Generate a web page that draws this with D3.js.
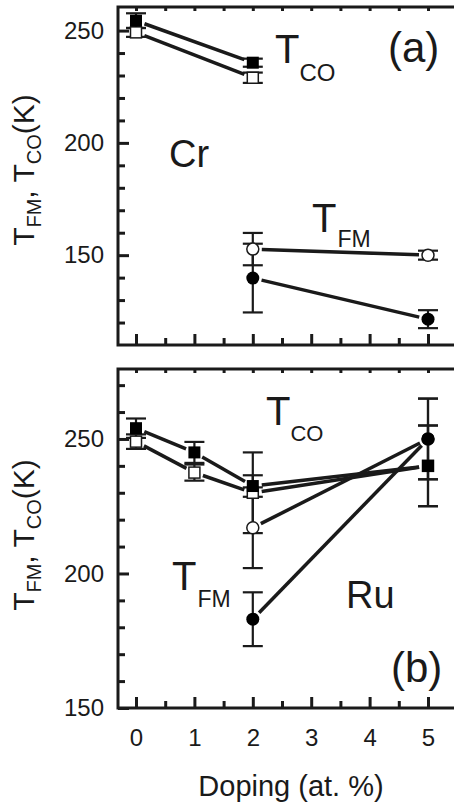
<!DOCTYPE html>
<html>
<head>
<meta charset="utf-8">
<script src="https://cdn.jsdelivr.net/npm/d3@7"></script>
<style>
body { margin: 0; background: #fff; }
text { font-family: "Liberation Sans", Arial, Helvetica, sans-serif; fill: #1a1a1a; }
</style>
</head>
<body>
<script>

// ---- data ----
var xTickValues = [0, 1, 2, 3, 4, 5]
var xMinorValues = [0.5, 1.5, 2.5, 3.5, 4.5]

// (a) Cr doping
var crTcoX = [0, 2]
var crTcoFilled = [254.4, 235.7]
var crTcoFilledErr = [3.3, 1.8]
var crTcoOpen = [249.2, 229]
var crTcoOpenErr = [2, 2.3]
var crTfmX = [2, 5]
var crTfmOpen = [152.7, 150]
var crTfmOpenErr = [7.2, 2]
var crTfmFilled = [139.8, 121.5]
var crTfmFilledErr = [15.3, 4]

// (b) Ru doping
var ruTcoX = [0, 1, 2, 5]
var ruTcoFilled = [254, 245, 232.5, 240]
var ruTcoFilledErr = [3.6, 3.9, 4, 15]
var ruTcoOpen = [249, 237.5, 230, 240]
var ruTcoOpenErr = [2.7, 3, 15, 15]
var ruTfmX = [2, 5]
var ruTfmOpen = [217, 250]
var ruTfmOpenErr = [15, 15]
var ruTfmFilled = [183, 250]
var ruTfmFilledErr = [10, 15]

var yMajorTop = [150, 200, 250]
var yMinorTop = [120, 130, 140, 160, 170, 180, 190, 210, 220, 230, 240]
var yMajorBottom = [150, 200, 250]
var yMinorBottom = [160, 170, 180, 190, 210, 220, 230, 240, 260, 270]

// ---- layout ----
var W = 454, H = 807
var plotLeft = 118, plotRight = 462

var svg = d3.select("body").append("svg")
    .attr("width", W)
    .attr("height", H)

svg.append("rect").attr("width", W).attr("height", H).attr("fill", "#fff")

var x = d3.scaleLinear().domain([0, 5]).range([136, 428])

function mk(xs, ys, errs, shape, filled) {
    return xs.map(function(d, i) { return { x: d, y: ys[i], e: errs[i], shape: shape, filled: filled } })
}

// open series first so the filled markers sit on top where they coincide
var panels = [
    {
        top: 7, bottom: 345, yDomain: [110, 260.5],
        major: yMajorTop, minor: yMinorTop, showX: false,
        labelY: 170,
        series: [
            mk(crTcoX, crTcoOpen, crTcoOpenErr, "square", false),
            mk(crTcoX, crTcoFilled, crTcoFilledErr, "square", true),
            mk(crTfmX, crTfmOpen, crTfmOpenErr, "circle", false),
            mk(crTfmX, crTfmFilled, crTfmFilledErr, "circle", true)
        ]
    },
    {
        top: 369, bottom: 708, yDomain: [150, 276],
        major: yMajorBottom, minor: yMinorBottom, showX: true,
        labelY: 535,
        series: [
            mk(ruTfmX, ruTfmOpen, ruTfmOpenErr, "circle", false),
            mk(ruTfmX, ruTfmFilled, ruTfmFilledErr, "circle", true),
            mk(ruTcoX, ruTcoOpen, ruTcoOpenErr, "square", false),
            mk(ruTcoX, ruTcoFilled, ruTcoFilledErr, "square", true)
        ]
    }
]

panels.forEach(function(p) {
    var y = d3.scaleLinear().domain(p.yDomain).range([p.bottom, p.top])
    var g = svg.append("g")

    // y axis: major + minor ticks pointing inward
    g.append("g").attr("transform", "translate(" + plotLeft + ",0)")
        .call(d3.axisLeft(y).tickValues(p.major).tickSize(-11).tickPadding(14).tickFormat(d3.format("d")))
        .call(styleAxis)
    g.append("g").attr("transform", "translate(" + plotLeft + ",0)")
        .call(d3.axisLeft(y).tickValues(p.minor).tickSize(-7).tickFormat(""))
        .call(styleAxis)

    // bottom axis
    var bottomAxis = d3.axisBottom(x).tickValues(xTickValues).tickSize(-11).tickPadding(21)
        .tickFormat(p.showX ? d3.format("d") : "")
    g.append("g").attr("transform", "translate(0," + p.bottom + ")")
        .call(bottomAxis).call(styleAxis)
    g.append("g").attr("transform", "translate(0," + p.bottom + ")")
        .call(d3.axisBottom(x).tickValues(xMinorValues).tickSize(-7).tickFormat(""))
        .call(styleAxis)

    // top ticks
    g.append("g").attr("transform", "translate(0," + p.top + ")")
        .call(d3.axisTop(x).tickValues(xTickValues.concat(xMinorValues)).tickSize(-4).tickFormat(""))
        .call(styleAxis)

    // frame
    g.append("rect")
        .attr("x", plotLeft).attr("y", p.top)
        .attr("width", plotRight - plotLeft).attr("height", p.bottom - p.top)
        .attr("fill", "none").attr("stroke", "#1a1a1a").attr("stroke-width", 3)

    // error bars
    p.series.forEach(function(s) {
        s.forEach(function(d) {
            var cx = x(d.x), y1 = y(d.y - d.e), y2 = y(d.y + d.e)
            g.append("line").attr("x1", cx).attr("x2", cx).attr("y1", y1).attr("y2", y2)
                .attr("stroke", "#1a1a1a").attr("stroke-width", 2.2)
            ;[y1, y2].forEach(function(yy) {
                g.append("line").attr("x1", cx - 10).attr("x2", cx + 10).attr("y1", yy).attr("y2", yy)
                    .attr("stroke", "#1a1a1a").attr("stroke-width", 2.2)
            })
        })
    })

    // connecting lines, with a small gap at the markers
    var gap = 9
    p.series.forEach(function(s) {
        for (var i = 0; i < s.length - 1; i++) {
            var x1 = x(s[i].x), y1 = y(s[i].y), x2 = x(s[i + 1].x), y2 = y(s[i + 1].y)
            var len = Math.hypot(x2 - x1, y2 - y1)
            var ux = (x2 - x1) / len, uy = (y2 - y1) / len
            g.append("line")
                .attr("x1", x1 + ux * gap).attr("y1", y1 + uy * gap)
                .attr("x2", x2 - ux * gap).attr("y2", y2 - uy * gap)
                .attr("stroke", "#1a1a1a").attr("stroke-width", 3.5)
        }
    })

    // markers
    p.series.forEach(function(s) {
        s.forEach(function(d) {
            var cx = x(d.x), cy = y(d.y)
            if (d.shape == "square") {
                var sz = d.filled ? 12 : 11
                g.append("rect").attr("x", cx - sz / 2).attr("y", cy - sz / 2)
                    .attr("width", sz).attr("height", sz)
                    .attr("fill", d.filled ? "#000" : "#fff")
                    .attr("stroke", "#1a1a1a").attr("stroke-width", d.filled ? 0 : 1.5)
            } else {
                g.append("circle").attr("cx", cx).attr("cy", cy).attr("r", d.filled ? 6.5 : 6)
                    .attr("fill", d.filled ? "#000" : "#fff")
                    .attr("stroke", "#1a1a1a").attr("stroke-width", d.filled ? 0 : 1.5)
            }
        })
    })

    // y axis title
    var t = svg.append("text")
        .attr("transform", "translate(34," + p.labelY + ") rotate(-90)")
        .attr("text-anchor", "middle")
        .style("font-size", "30px")
    t.append("tspan").text("T")
    t.append("tspan").text("FM").style("font-size", "20px").attr("dy", 7)
    t.append("tspan").text(", ").attr("dy", -7)
    t.append("tspan").text("T")
    t.append("tspan").text("CO").style("font-size", "20px").attr("dy", 7)
    t.append("tspan").text("(K)").attr("dy", -7)
})

function styleAxis(sel) {
    sel.select(".domain").remove()
    sel.selectAll(".tick line").attr("stroke", "#1a1a1a").attr("stroke-width", 3)
    sel.selectAll(".tick text").style("font-size", "24px").attr("fill", "#1a1a1a")
        .style("font-family", "'Liberation Sans', Arial, Helvetica, sans-serif")
}

// x axis title
svg.append("text").attr("x", 291).attr("y", 796).attr("text-anchor", "middle")
    .style("font-size", "29px").text("Doping (at. %)")

// annotations
function label(xp, yp, main, sub, subDx, subDy, size, subSize) {
    var t = svg.append("text").attr("x", xp).attr("y", yp).style("font-size", size + "px")
    t.append("tspan").text(main)
    if (sub) t.append("tspan").text(sub).attr("dx", subDx).attr("dy", subDy).style("font-size", subSize + "px")
}
label(275, 63, "T", "CO", 0, 18, 40, 24)
label(312, 232, "T", "FM", 1, 15, 40, 23)
label(169, 167, "Cr", null, 0, 0, 38)
label(388, 62, "(a)", null, 0, 0, 42)
label(266, 425, "T", "CO", 0, 16, 40, 22)
label(172, 590, "T", "FM", 1, 17, 40, 23)
label(346, 608, "Ru", null, 0, 0, 38)
label(391, 682, "(b)", null, 0, 0, 42)

</script>
</body>
</html>
